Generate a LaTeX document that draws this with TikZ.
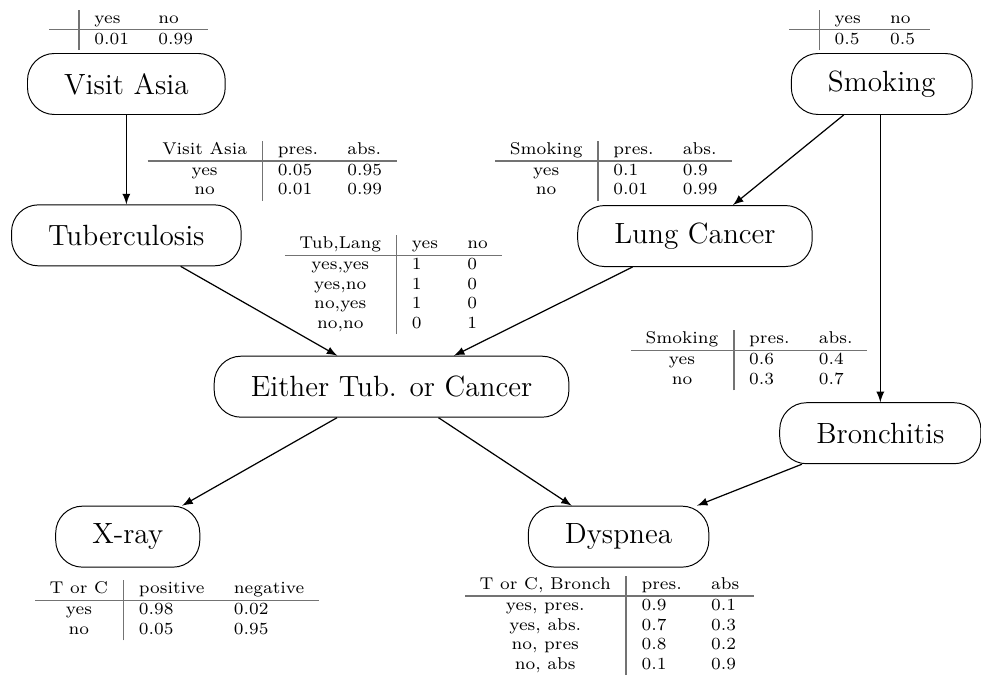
\documentclass[tikz,border=0pt]{standalone}
\usepackage{colortbl}
\usepackage{tikz}
\arrayrulecolor{black!55}
\setlength{\arrayrulewidth}{0.6pt}

\begin{document}
\begin{tikzpicture}[
  >=latex,
  var/.style={rectangle, rounded corners=11pt, draw, font=\large,
    inner xsep=15pt, minimum height=25pt},
  cpt/.style={inner sep=0pt, font=\scriptsize},
  dep/.style={->, line width=0.5pt},
]
\useasboundingbox (0,0) rectangle (14.13,9.73);

% variables of the network
\node[var] (visit) at (1.82,8.52) {Visit Asia};
\node[var] (smoking) at (12.70,8.52) {Smoking};
\node[var] (tub) at (1.82,6.34) {Tuberculosis};
\node[var] (lung) at (10.01,6.33) {Lung Cancer};
\node[var] (either) at (5.64,4.16) {Either Tub. or Cancer};
\node[var] (bronch) at (12.68,3.49) {Bronchitis};
\node[var] (xray) at (1.84,2.00) {X-ray};
\node[var] (dysp) at (8.91,2.00) {Dyspnea};

% conditional probability tables
\node[cpt, anchor=north] (tvisit) at (1.85,9.60) {\begin{tabular}{c|ll}
  & yes & no\\ \hline
  & 0.01 & 0.99
\end{tabular}};
\node[cpt, anchor=north] (tsmoking) at (12.38,9.60) {\begin{tabular}{c|ll}
  & yes & no\\ \hline
  & 0.5 & 0.5
\end{tabular}};
\node[cpt] (ttub) at (3.92,7.27) {\begin{tabular}{c|ll}
  Visit Asia & pres. & abs.\\ \hline
  yes & 0.05 & 0.95\\
  no & 0.01 & 0.99
\end{tabular}};
\node[cpt] (tlung) at (8.84,7.27) {\begin{tabular}{c|ll}
  Smoking & pres. & abs.\\ \hline
  yes & 0.1 & 0.9\\
  no & 0.01 & 0.99
\end{tabular}};
\node[cpt] (teither) at (5.67,5.63) {\begin{tabular}{c|ll}
  Tub,Lang & yes & no\\ \hline
  yes,yes & 1 & 0\\
  yes,no & 1 & 0\\
  no,yes & 1 & 0\\
  no,no & 0 & 1
\end{tabular}};
\node[cpt] (tbronch) at (10.79,4.54) {\begin{tabular}{c|ll}
  Smoking & pres. & abs.\\ \hline
  yes & 0.6 & 0.4\\
  no & 0.3 & 0.7
\end{tabular}};
\node[cpt] (txray) at (2.55,0.94) {\begin{tabular}{c|ll}
  T or C & positive & negative\\ \hline
  yes & 0.98 & 0.02\\
  no & 0.05 & 0.95
\end{tabular}};
\node[cpt, anchor=south] (tdysp) at (8.78,0) {\begin{tabular}{c|ll}
  T or C, Bronch & pres. & abs\\ \hline
  yes, pres. & 0.9 & 0.1\\
  yes, abs. & 0.7 & 0.3\\
  no, pres & 0.8 & 0.2\\
  no, abs & 0.1 & 0.9
\end{tabular}};

% dependencies
\draw[dep] (visit) -- (tub);
\draw[dep] (smoking) -- (lung);
\draw[dep] (smoking.south -| bronch.north) -- (bronch);
\draw[dep] (tub) -- (either);
\draw[dep] (lung) -- (either);
\draw[dep] (either) -- (xray);
\draw[dep] (either) -- (dysp);
\draw[dep] (bronch) -- (dysp);
\end{tikzpicture}
\end{document}
